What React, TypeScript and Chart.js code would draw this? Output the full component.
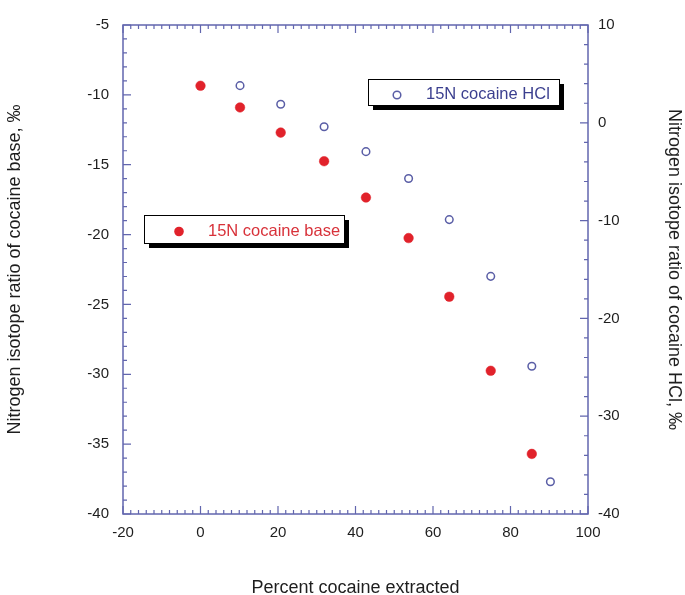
import React, { useEffect, useRef } from "react";
import { Chart, registerables } from "chart.js";

Chart.register(...registerables);

// Percent cocaine extracted (x) and nitrogen isotope ratios
const xBase = [0, 10.2, 20.7, 31.9, 42.7, 53.7, 64.2, 74.9, 85.5];
const yBase = [-9.35, -10.9, -12.7, -14.75, -17.35, -20.25, -24.45, -29.75, -35.7];
const xHCl = [10.2, 20.7, 31.9, 42.7, 53.7, 64.2, 74.9, 85.5, 90.3];
const yHCl = [3.8, 1.9, -0.4, -2.95, -5.7, -9.9, -15.7, -24.9, -36.7];

const xRange = [-20, 100];
const yLeftRange = [-40, -5];
const yRightRange = [-40, 10];
const xTickStep = 20;
const xMinorStep = 2;
const yLeftTickStep = 5;
const yLeftMinorStep = 1;
const yRightTickStep = 10;
const yRightMinorStep = 2;

const labelBase = "15N cocaine base";
const labelHCl = "15N cocaine HCl";
const xTitle = "Percent cocaine extracted";
const yLeftTitle = "Nitrogen isotope ratio of cocaine base, ‰";
const yRightTitle = "Nitrogen isotope ratio of cocaine HCl, ‰";

const FONT = "'Liberation Sans', Arial, Helvetica, sans-serif";
const AXIS = "#6266ae";
const RED = "#e1222b";
const BLUE = "#5a5ea6";
const TXT = "#1e1e1e";

const framePlugin = {
  id: "frameTicks",
  afterDraw(chart: any) {
    const ctx = chart.ctx as CanvasRenderingContext2D;
    const { left, right, top, bottom } = chart.chartArea;
    const sx = chart.scales.x;
    const sy = chart.scales.y;
    const sy2 = chart.scales.y2;
    ctx.save();
    ctx.strokeStyle = AXIS;
    ctx.lineWidth = 1.5;
    ctx.strokeRect(left, top, right - left, bottom - top);
    ctx.lineWidth = 1.2;
    ctx.beginPath();
    for (let v = xRange[0]; v <= xRange[1] + 1e-9; v += xMinorStep) {
      const p = sx.getPixelForValue(v);
      const major = Math.abs(v % xTickStep) < 1e-6;
      const len = major ? 8 : 4;
      ctx.moveTo(p, bottom);
      ctx.lineTo(p, bottom - len);
      ctx.moveTo(p, top);
      ctx.lineTo(p, top + len);
    }
    for (let v = yLeftRange[0]; v <= yLeftRange[1] + 1e-9; v += yLeftMinorStep) {
      const p = sy.getPixelForValue(v);
      const major = Math.abs(v % yLeftTickStep) < 1e-6;
      const len = major ? 8 : 4;
      ctx.moveTo(left, p);
      ctx.lineTo(left + len, p);
    }
    for (let v = yRightRange[0]; v <= yRightRange[1] + 1e-9; v += yRightMinorStep) {
      const p = sy2.getPixelForValue(v);
      const major = Math.abs(v % yRightTickStep) < 1e-6;
      const len = major ? 8 : 4;
      ctx.moveTo(right, p);
      ctx.lineTo(right - len, p);
    }
    ctx.stroke();

    // legend boxes
    const drawBox = (x: number, y: number, w: number, h: number) => {
      ctx.fillStyle = "#000";
      ctx.fillRect(x + 5, y + 5, w, h);
      ctx.fillStyle = "#fff";
      ctx.fillRect(x, y, w, h);
      ctx.strokeStyle = "#000";
      ctx.lineWidth = 1;
      ctx.strokeRect(x + 0.5, y + 0.5, w, h);
    };
    const bx = left + 21, by = top + 190;
    drawBox(bx, by, 200, 28);
    ctx.beginPath();
    ctx.fillStyle = RED;
    ctx.arc(bx + 35, by + 16.5, 4.8, 0, Math.PI * 2);
    ctx.fill();
    ctx.font = `16.5px ${FONT}`;
    ctx.textBaseline = "middle";
    ctx.textAlign = "left";
    ctx.fillStyle = "#d8323a";
    ctx.fillText(labelBase, bx + 64, by + 16);

    const hx = left + 245, hy = top + 54;
    drawBox(hx, hy, 191, 26);
    ctx.beginPath();
    ctx.strokeStyle = BLUE;
    ctx.lineWidth = 1.5;
    ctx.arc(hx + 29, hy + 16, 3.8, 0, Math.PI * 2);
    ctx.stroke();
    ctx.fillStyle = "#3b3f8f";
    ctx.fillText(labelHCl, hx + 58, hy + 15.5);
    ctx.restore();
  },
};

export default function App() {
  const ref = useRef<HTMLCanvasElement>(null);
  useEffect(() => {
    const baseData = xBase.map((x, i) => ({ x, y: yBase[i] }));
    const hclData = xHCl.map((x, i) => ({ x, y: yHCl[i] }));
    const tickFont = { family: FONT, size: 15 };
    const titleFont = { family: FONT, size: 18, lineHeight: 1 };
    const chart = new Chart(ref.current as HTMLCanvasElement, {
      type: "scatter",
      data: {
        datasets: [
          {
            label: labelBase,
            data: baseData,
            xAxisID: "x",
            yAxisID: "y",
            pointRadius: 4.8,
            pointBackgroundColor: RED,
            pointBorderColor: RED,
            pointBorderWidth: 0.5,
          },
          {
            label: labelHCl,
            data: hclData,
            xAxisID: "x",
            yAxisID: "y2",
            pointRadius: 3.8,
            pointBackgroundColor: "#ffffff",
            pointBorderColor: BLUE,
            pointBorderWidth: 1.5,
          },
        ],
      },
      options: {
        responsive: false,
        animation: false,
        layout: { padding: { top: 25, left: 0, right: 0, bottom: 0 } },
        plugins: { legend: { display: false }, tooltip: { enabled: false } },
        scales: {
          x: {
            type: "linear",
            position: "bottom",
            min: xRange[0],
            max: xRange[1],
            grid: { display: false, drawTicks: false },
            border: { display: false },
            ticks: { stepSize: xTickStep, font: tickFont, color: TXT, padding: 10 },
            title: { display: true, text: xTitle, font: titleFont, color: TXT, padding: { top: 0, bottom: -2 } },
            afterFit: (s: any) => { s.height = 81; },
          },
          y: {
            type: "linear",
            position: "left",
            min: yLeftRange[0],
            max: yLeftRange[1],
            grid: { display: false, drawTicks: false },
            border: { display: false },
            ticks: { stepSize: yLeftTickStep, font: tickFont, color: TXT, padding: 14 },
            title: { display: true, text: yLeftTitle, font: titleFont, color: TXT, padding: { top: 6, bottom: 0 } },
            afterFit: (s: any) => { s.width = 123; },
          },
          y2: {
            type: "linear",
            position: "right",
            min: yRightRange[0],
            max: yRightRange[1],
            grid: { display: false, drawTicks: false },
            border: { display: false },
            ticks: { stepSize: yRightTickStep, font: tickFont, color: TXT, padding: 10 },
            title: { display: true, text: yRightTitle, font: titleFont, color: TXT, padding: { top: 2, bottom: 0 } },
            afterFit: (s: any) => { s.width = 97; },
          },
        },
      } as any,
      plugins: [framePlugin],
    });
    return () => chart.destroy();
  }, []);
  return (
    <div style={{ position: "absolute", left: 0, top: 0, width: 685, height: 595, background: "#fff" }}>
      <canvas ref={ref} width={685} height={595} style={{ display: "block", width: 685, height: 595 }} />
    </div>
  );
}
